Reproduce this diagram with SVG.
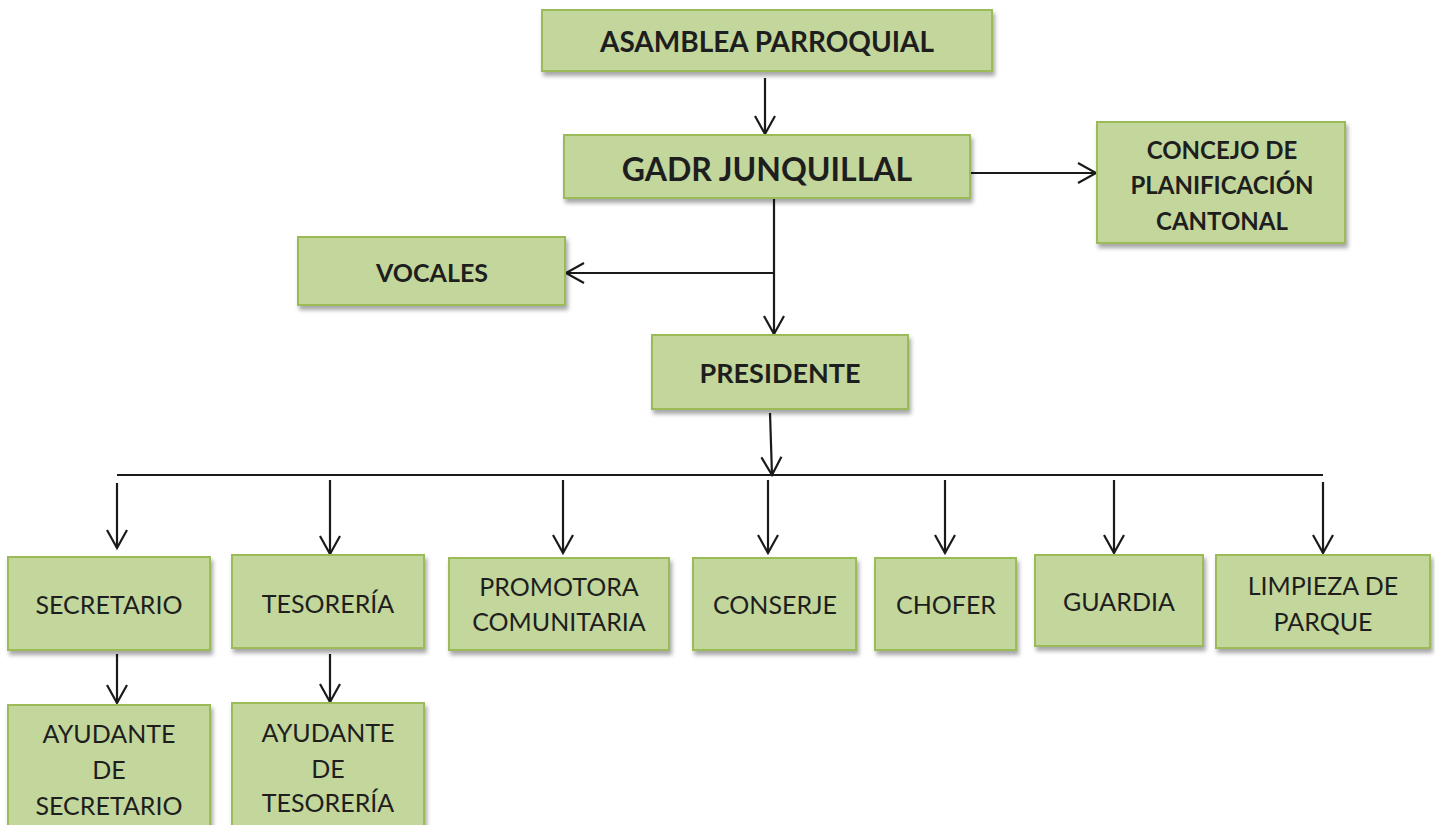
<svg xmlns="http://www.w3.org/2000/svg" width="1435" height="825" viewBox="0 0 1435 825">
<defs>
<filter id="sh" x="-10%" y="-10%" width="130%" height="140%">
<feDropShadow dx="2" dy="4" stdDeviation="2" flood-color="#000" flood-opacity="0.35"/>
</filter>
<marker id="ah" markerUnits="userSpaceOnUse" markerWidth="24" markerHeight="24" viewBox="-20 -12 24 24" refX="0" refY="0" orient="auto">
<path d="M-18,-10 L0,0 L-18,10" fill="none" stroke="#1a1a1a" stroke-width="2.2"/>
</marker>
<style>
.box{fill:#c3d69b;stroke:#9bbb59;stroke-width:2;filter:url(#sh)}
.b{font-family:Lato,"Open Sans",sans-serif;font-weight:bold;fill:#1e1e1e;text-anchor:middle}
.r{font-family:Lato,"Open Sans",sans-serif;font-weight:normal;fill:#1e1e1e;text-anchor:middle;font-size:25px}
.c{fill:none;stroke:#1a1a1a;stroke-width:2.2}
.a{marker-end:url(#ah)}
</style>
</defs>
<rect width="1435" height="825" fill="#fff"/>

<g id="connectors">
<line class="c a" x1="765" y1="78" x2="765" y2="134"/>
<line class="c a" x1="970" y1="173" x2="1096" y2="173"/>
<line class="c" x1="774" y1="198" x2="774" y2="273"/>
<line class="c a" x1="774" y1="273" x2="774" y2="334"/>
<line class="c a" x1="774" y1="273" x2="566" y2="273"/>
<line class="c a" x1="770" y1="413" x2="772" y2="475"/>
<line class="c" x1="117" y1="475" x2="1323" y2="475"/>
<line class="c a" x1="117" y1="483" x2="117" y2="548"/>
<line class="c a" x1="330" y1="480" x2="330" y2="554"/>
<line class="c a" x1="563" y1="480" x2="563" y2="553"/>
<line class="c a" x1="768" y1="480" x2="768" y2="553"/>
<line class="c a" x1="945" y1="480" x2="945" y2="553"/>
<line class="c a" x1="1114" y1="480" x2="1114" y2="553"/>
<line class="c a" x1="1323" y1="482" x2="1323" y2="553"/>
<line class="c a" x1="117" y1="654" x2="117" y2="703"/>
<line class="c a" x1="330" y1="654" x2="330" y2="702"/>
</g>

<g id="asamblea"><rect class="box" x="542" y="10" width="450" height="61"/><text class="b" x="767" y="52" font-size="28">ASAMBLEA PARROQUIAL</text></g>
<g id="gadr"><rect class="box" x="564" y="135" width="406" height="63"/><text class="b" x="767" y="181" font-size="32">GADR JUNQUILLAL</text></g>
<g id="concejo"><rect class="box" x="1097" y="122" width="248" height="121"/><text class="b" font-size="24"><tspan x="1222" y="159">CONCEJO DE</tspan><tspan x="1222" y="194">PLANIFICACIÓN</tspan><tspan x="1222" y="230">CANTONAL</tspan></text></g>
<g id="vocales"><rect class="box" x="298" y="237" width="267" height="68"/><text class="b" x="432" y="282" font-size="25">VOCALES</text></g>
<g id="presidente"><rect class="box" x="652" y="335" width="256" height="74"/><text class="b" x="780" y="383" font-size="27">PRESIDENTE</text></g>

<g id="secretario"><rect class="box" x="8" y="557" width="202" height="93"/><text class="r" x="109" y="614">SECRETARIO</text></g>
<g id="tesoreria"><rect class="box" x="232" y="555" width="192" height="93"/><text class="r" x="328" y="613">TESORERÍA</text></g>
<g id="promotora"><rect class="box" x="449" y="558" width="220" height="92"/><text class="r"><tspan x="559" y="596">PROMOTORA</tspan><tspan x="559" y="631">COMUNITARIA</tspan></text></g>
<g id="conserje"><rect class="box" x="693" y="558" width="163" height="92"/><text class="r" x="775" y="614">CONSERJE</text></g>
<g id="chofer"><rect class="box" x="875" y="558" width="141" height="92"/><text class="r" x="946" y="614">CHOFER</text></g>
<g id="guardia"><rect class="box" x="1035" y="555" width="168" height="91"/><text class="r" x="1119" y="611">GUARDIA</text></g>
<g id="limpieza"><rect class="box" x="1216" y="555" width="214" height="93"/><text class="r"><tspan x="1323" y="595">LIMPIEZA DE</tspan><tspan x="1323" y="631">PARQUE</tspan></text></g>

<g id="ayudante-secretario"><rect class="box" x="8" y="705" width="202" height="135"/><text class="r"><tspan x="109" y="743">AYUDANTE</tspan><tspan x="109" y="779">DE</tspan><tspan x="109" y="815">SECRETARIO</tspan></text></g>
<g id="ayudante-tesoreria"><rect class="box" x="232" y="703" width="192" height="137"/><text class="r"><tspan x="328" y="742">AYUDANTE</tspan><tspan x="328" y="778">DE</tspan><tspan x="328" y="812">TESORERÍA</tspan></text></g>
</svg>
